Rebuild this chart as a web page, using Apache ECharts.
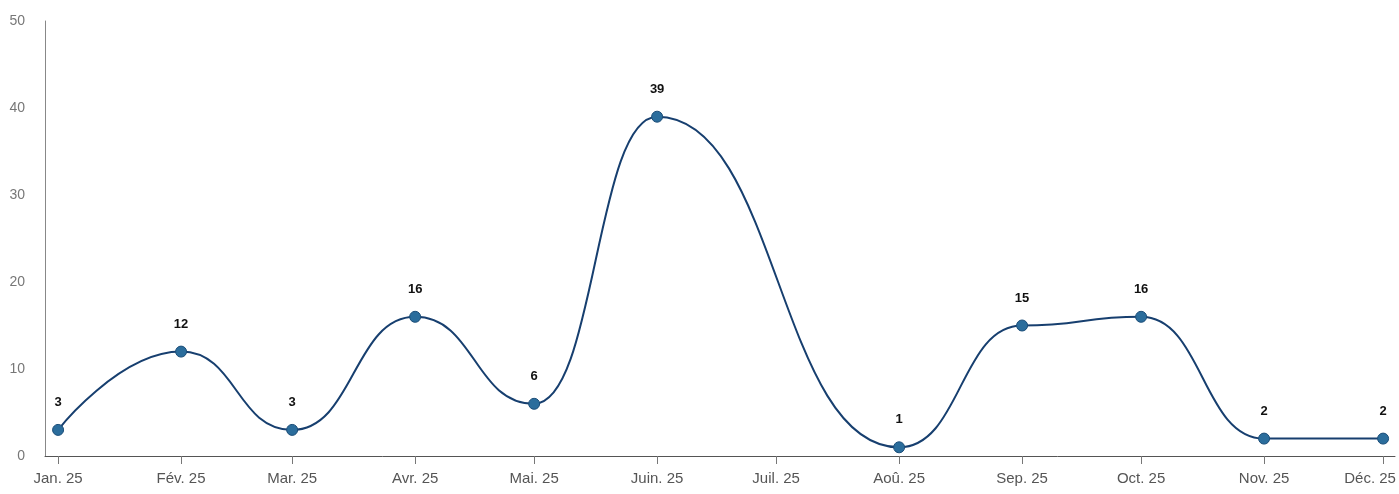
<!DOCTYPE html>
<html>
<head>
<meta charset="utf-8">
<script src="https://cdn.jsdelivr.net/npm/echarts@6/dist/echarts.min.js"></script>
<style>
  html, body { margin: 0; padding: 0; background: #fff; }
  #chart { width: 1399px; height: 494px; }
</style>
</head>
<body>
<div id="chart"></div>
<script>
// Monthly counts for 2025 (July has no entry)
const monthDates = ['2025-01-01','2025-02-01','2025-03-01','2025-04-01','2025-05-01','2025-06-01',
                    '2025-07-01','2025-08-01','2025-09-01','2025-10-01','2025-11-01','2025-12-01'];
const monthLabels = ['Jan. 25','Fév. 25','Mar. 25','Avr. 25','Mai. 25','Juin. 25',
                     'Juil. 25','Aoû. 25','Sep. 25','Oct. 25','Nov. 25','Déc. 25'];
const counts = [3, 12, 3, 16, 6, 39, null, 1, 15, 16, 2, 2];
const yTicks = [0, 10, 20, 30, 40, 50];

// Position along the x axis = days since 1 Jan 2025
const origin = Date.UTC(2025, 0, 1);
function dayOf(s) {
  const [y, m, d] = s.split('-').map(Number);
  return (Date.UTC(y, m - 1, d) - origin) / 86400000;
}
const monthDays = monthDates.map(dayOf);
const points = monthDays.map((d, i) => [d, counts[i]]);
const lastIdx = monthDays.length - 1;

const chart = echarts.init(document.getElementById('chart'), null, { renderer: 'canvas' });
chart.setOption({
  animation: false,
  grid: { left: 45, right: 4, top: 21, bottom: 38, containLabel: false, outerBoundsMode: 'none' },
  xAxis: {
    type: 'value',
    min: -3.3,
    max: 337,
    splitLine: { show: false },
    axisLine: { show: true, onZero: false, lineStyle: { color: '#555', width: 1 } },
    axisTick: { show: true, customValues: monthDays, length: 8, lineStyle: { color: '#777' } },
    axisLabel: {
      customValues: monthDays,
      color: '#555',
      fontFamily: 'Liberation Sans, Arial, sans-serif',
      fontSize: 15,
      margin: 15,
      // the last month's label is pulled left so it stays inside the frame
      formatter: v => {
        const i = monthDays.indexOf(v);
        if (i < 0) return '';
        return i === lastIdx ? '{edge|' + monthLabels[i] + '}' : monthLabels[i];
      },
      rich: {
        edge: {
          color: '#555',
          fontFamily: 'Liberation Sans, Arial, sans-serif',
          fontSize: 15,
          padding: [0, 26, 0, 0]
        }
      }
    }
  },
  yAxis: {
    type: 'value',
    min: 0,
    max: 50,
    interval: 10,
    splitLine: { show: false },
    axisLine: { show: true, onZero: false, lineStyle: { color: '#888', width: 1 } },
    axisTick: { show: false },
    axisLabel: {
      customValues: yTicks,
      color: '#777',
      fontFamily: 'Liberation Sans, Arial, sans-serif',
      fontSize: 14,
      margin: 20
    }
  },
  series: [{
    type: 'line',
    data: points,
    connectNulls: true,
    smooth: 0.5,
    smoothMonotone: 'x',
    symbol: 'circle',
    symbolSize: 11,
    lineStyle: { color: '#173f6f', width: 2 },
    itemStyle: { color: '#2b6d9c', borderColor: '#1b4d78', borderWidth: 1 },
    label: {
      show: true,
      position: 'top',
      distance: 15,
      color: '#111',
      fontWeight: 'bold',
      fontSize: 13,
      fontFamily: 'Liberation Sans, Arial, sans-serif'
    }
  }]
});
</script>
</body>
</html>
